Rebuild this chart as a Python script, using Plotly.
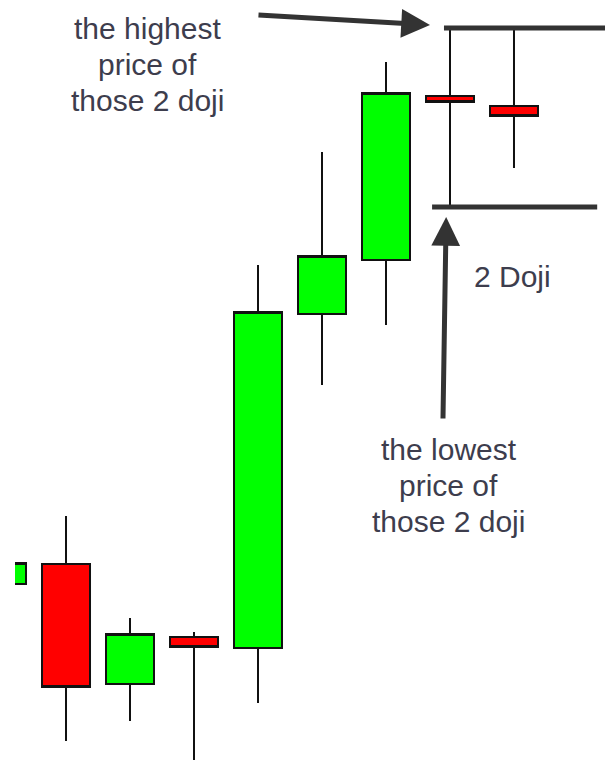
import plotly.graph_objects as go

# candle index and prices (price units)
idx = [0, 1, 2, 3, 4, 5, 6, 7, 8]
open_ = [17.6, 19.6, 7.6, 12.3, 11.2, 44.6, 50.0, 66.4, 65.4]
high = [19.7, 24.4, 14.2, 12.8, 49.5, 60.8, 69.8, 73.2, 73.2]
low = [17.6, 1.9, 3.9, -0.5, 5.7, 37.5, 43.5, 55.3, 59.2]
close = [19.7, 7.3, 12.6, 11.3, 44.8, 50.4, 66.7, 65.8, 64.4]

top_lines = ["the highest", "price of", "those 2 doji"]
bottom_lines = ["the lowest", "price of", "those 2 doji"]

doji_high = max(high[7:])
doji_low = min(low[7:])

TXT = "#3d3d4d"
DARK = "#333333"
FONT = "Liberation Sans, Arial, sans-serif"

fig = go.Figure()

fig.add_trace(go.Candlestick(
    x=idx, open=open_, high=high, low=low, close=close,
    increasing=dict(fillcolor="#00ff00", line=dict(color="#111111", width=2)),
    decreasing=dict(fillcolor="#ff0000", line=dict(color="#111111", width=2)),
    showlegend=False,
    hoverinfo="skip",
))

# highest / lowest of the two doji
fig.add_shape(type="line", x0=6.906, x1=9.547, y0=doji_high, y1=doji_high,
              line=dict(color=DARK, width=5))
fig.add_shape(type="line", x0=6.72, x1=9.30, y0=doji_low, y1=doji_low,
              line=dict(color=DARK, width=5))

# arrows
fig.add_annotation(x=6.6875, y=73.5, ax=3.984, ay=74.5, axref="x", ayref="y",
                   text="", showarrow=True, arrowhead=2, arrowwidth=5,
                   arrowsize=1.15, arrowcolor=DARK)
fig.add_annotation(x=6.94, y=54.3, ax=6.89, ay=34.0, axref="x", ayref="y",
                   text="", showarrow=True, arrowhead=2, arrowwidth=5,
                   arrowsize=1.15, arrowcolor=DARK)

# labels, one annotation per line to keep the tight line spacing
for i, t in enumerate(top_lines):
    fig.add_annotation(x=2.28, y=73.2 - 3.6 * i, text=t, showarrow=False,
                       font=dict(family=FONT, size=30, color=TXT))
for i, t in enumerate(bottom_lines):
    fig.add_annotation(x=6.98, y=31.1 - 3.6 * i, text=t, showarrow=False,
                       font=dict(family=FONT, size=30, color=TXT))
fig.add_annotation(x=7.97, y=48.4, text="2 Doji", showarrow=False,
                   font=dict(family=FONT, size=30, color=TXT))

# page body adds an 8px margin, so the figure starts at (8, 8)
fig.update_layout(
    width=605, height=752,
    margin=dict(l=7, r=0, t=0, b=0),
    paper_bgcolor="white", plot_bgcolor="white",
    boxgap=0.25, boxgroupgap=0,
    xaxis=dict(range=[0.203, 9.547], visible=False, rangeslider=dict(visible=False)),
    yaxis=dict(range=[0, 75.2], visible=False),
    showlegend=False,
)

fig.write_html("out.html")
